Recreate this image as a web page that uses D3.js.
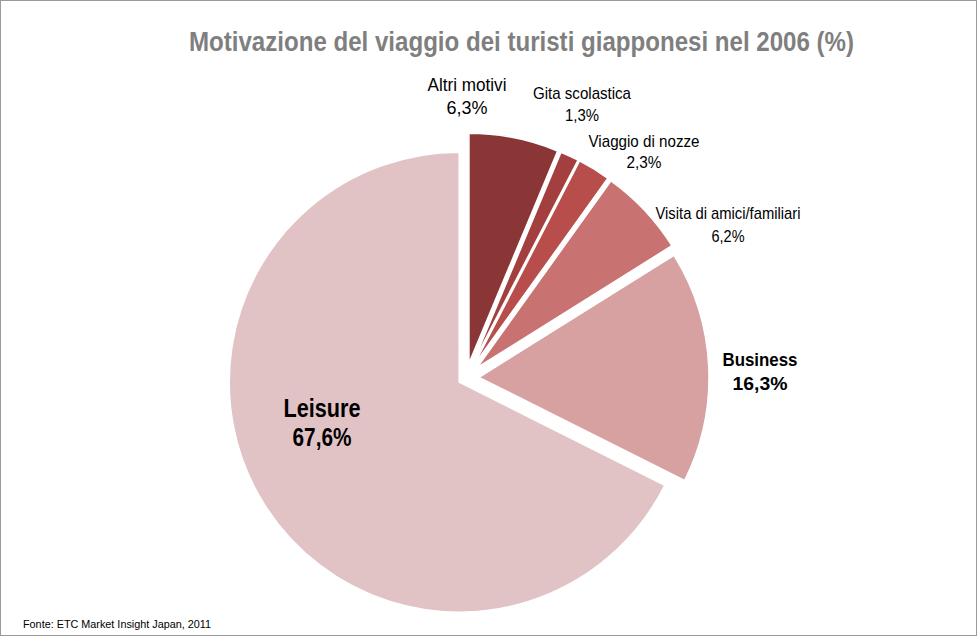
<!DOCTYPE html>
<html>
<head>
<meta charset="utf-8">
<script src="https://cdn.jsdelivr.net/npm/d3@7"></script>
<style>
  html, body { margin: 0; padding: 0; background: #fff; }
  svg { display: block; }
</style>
</head>
<body>
<svg id="chart" width="978" height="639"></svg>
<script>
// ---- data ----
const categories = ["Altri motivi", "Gita scolastica", "Viaggio di nozze", "Visita di amici/familiari", "Business", "Leisure"];
const values = [6.3, 1.3, 2.3, 6.2, 16.3, 67.6];
const valueLabels = ["6,3%", "1,3%", "2,3%", "6,2%", "16,3%", "67,6%"];
const colors = ["#8A3636", "#A3403F", "#B84E4B", "#C87372", "#D7A1A1", "#E2C3C5"];
const titleText = "Motivazione del viaggio dei turisti giapponesi nel 2006 (%)";
const sourceText = "Fonte: ETC Market Insight  Japan, 2011";

// ---- layout ----
const W = 978, H = 639;
const cx = 466, cy = 378, R = 230;
const explode = [15, 15, 15, 15, 13, 8];
// label layout: center x, first-line baseline y, font size, bold, line gap, widths
const labelLayout = [
  {x: 467, y: 91,  fs: 18, bold: false, gap: 23, w1: 79,  w2: 41},
  {x: 582, y: 99,  fs: 17, bold: false, gap: 22, w1: 98,  w2: 34},
  {x: 644, y: 147, fs: 17, bold: false, gap: 21, w1: 111, w2: 35},
  {x: 728, y: 219, fs: 17, bold: false, gap: 23, w1: 145, w2: 33},
  {x: 760, y: 366, fs: 18.5, bold: true,  gap: 24, w1: 75,  w2: 55},
  {x: 322, y: 417, fs: 25.5, bold: true,  gap: 29, w1: 77,  w2: 59}
];
const FONT = "'Liberation Sans Narrow', 'Arial Narrow', 'Liberation Sans', Arial, sans-serif";

const svg = d3.select("#chart");
svg.append("rect").attr("x", 0).attr("y", 0).attr("width", W).attr("height", H).attr("fill", "#fff");
svg.append("rect").attr("x", 0.5).attr("y", 0.5).attr("width", 976).attr("height", 635)
  .attr("fill", "none").attr("stroke", "#9a9a9a").attr("stroke-width", 1);

// title
svg.append("text")
  .attr("x", 521.5).attr("y", 51)
  .attr("text-anchor", "middle")
  .attr("font-family", FONT).attr("font-weight", "bold").attr("font-size", 28)
  .attr("fill", "#7f7f7f")
  .attr("textLength", 665).attr("lengthAdjust", "spacingAndGlyphs")
  .text(titleText);

// pie
const data = categories.map((c, i) => ({cat: c, value: values[i], label: valueLabels[i], color: colors[i], off: explode[i], lay: labelLayout[i]}));
const pie = d3.pie().value(d => d.value).sort(null).startAngle(0).endAngle(2 * Math.PI);
const arc = d3.arc().innerRadius(0).outerRadius(R);
const arcs = pie(data);

const g = svg.append("g").attr("transform", `translate(${cx},${cy})`);
g.selectAll("path").data(arcs).enter().append("path")
  .attr("d", arc)
  .attr("fill", d => d.data.color)
  .attr("stroke", "#fff").attr("stroke-width", 1.5).attr("stroke-linejoin", "round")
  .attr("transform", d => {
    const a = (d.startAngle + d.endAngle) / 2;
    return `translate(${d.data.off * Math.sin(a)},${-d.data.off * Math.cos(a)})`;
  });

// labels
const lab = svg.append("g");
arcs.forEach(d => {
  const L = d.data.lay;
  lab.append("text")
    .attr("x", L.x).attr("y", L.y).attr("text-anchor", "middle")
    .attr("font-family", FONT).attr("font-size", L.fs)
    .attr("font-weight", L.bold ? "bold" : "normal").attr("fill", "#000")
    .attr("textLength", L.w1).attr("lengthAdjust", "spacingAndGlyphs")
    .text(d.data.cat);
  lab.append("text")
    .attr("x", L.x).attr("y", L.y + L.gap).attr("text-anchor", "middle")
    .attr("font-family", FONT).attr("font-size", L.fs)
    .attr("font-weight", L.bold ? "bold" : "normal").attr("fill", "#000")
    .attr("textLength", L.w2).attr("lengthAdjust", "spacingAndGlyphs")
    .text(d.data.label);
});

// source
svg.append("text")
  .attr("x", 23).attr("y", 628)
  .attr("font-family", FONT).attr("font-size", 11).attr("fill", "#000")
  .attr("textLength", 188).attr("lengthAdjust", "spacingAndGlyphs")
  .text(sourceText);
</script>
</body>
</html>
